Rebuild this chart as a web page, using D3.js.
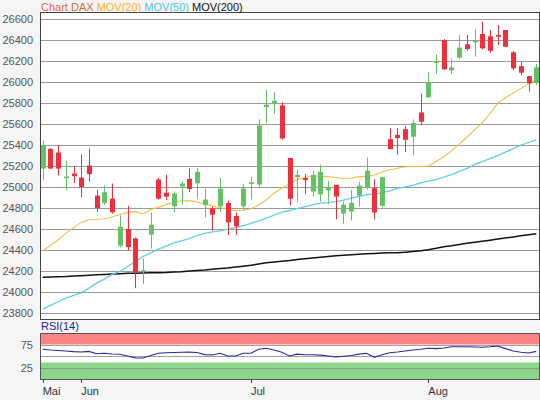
<!DOCTYPE html>
<html><head><meta charset="utf-8">
<script src="https://cdn.jsdelivr.net/npm/d3@7"></script>
<style>
html,body{margin:0;padding:0;background:#f5f5f5;}
svg{display:block;font-family:"Liberation Sans",Arial,sans-serif;}
</style></head>
<body>
<svg id="c" width="540" height="400"></svg>
<script>
const opens  = [25177,25365,25330,25085,25130,25091,25206,24920,24850,24891,24443,24602,24513,24198,24548,25073,24948,24818,25006,25079,25037,24830,24799,24818,24850,24726,24818,25031,25025,25762,25800,25778,25278,25095,25086,24959,24933,24971,25022,24749,24768,24921,24997,24990,24822,25457,25498,25552,25480,25711,25854,26184,26400,26111,26232,26359,26378,26457,26435,26448,26495,26283,26152,26057,25994];
const highs  = [25445,25370,25403,25250,25200,25311,25368,24977,25016,25035,24732,24824,24523,24322,24758,25089,25120,24961,25050,25177,25184,24987,24812,25089,24872,24758,25028,25098,25645,25927,25905,25810,25279,25165,25124,25155,25213,25060,25022,24863,24975,25054,25283,25076,25100,25562,25562,25578,25645,25892,26092,26263,26409,26225,26448,26448,26505,26575,26495,26543,26495,26295,26194,26057,26171];
const lows   = [25066,25172,25111,24970,25040,24904,25054,24764,24831,24748,24427,24398,24039,24077,24417,24882,24875,24761,24837,24952,24891,24711,24586,24761,24545,24548,24777,24882,24990,25610,25698,25451,24828,24863,24933,24911,24863,24838,24695,24651,24682,24816,24975,24695,24810,25360,25308,25333,25305,25590,25854,26079,26114,26076,26222,26298,26241,26311,26279,26352,26336,26114,26067,25908,25971];
const closes = [25400,25177,25177,25101,25104,25000,25123,24802,24952,24761,24624,24430,24188,24210,24643,24891,24910,24939,25034,24983,25146,24882,24739,24987,24665,24627,24987,25047,25586,25784,25822,25463,24890,25117,25067,25117,25146,24997,24911,24832,24851,25016,25156,24759,25095,25362,25467,25451,25612,25622,25994,26197,26121,26140,26327,26314,26400,26321,26298,26432,26336,26130,26089,25987,26140];
const mov20  = [24395,24445,24500,24560,24615,24665,24690,24692,24700,24716,24740,24760,24767,24745,24785,24810,24834,24855,24868,24872,24860,24840,24822,24805,24790,24777,24780,24795,24830,24880,24945,24990,25030,25072,25092,25104,25104,25100,25092,25082,25085,25100,25104,25115,25145,25165,25180,25194,25197,25197,25200,25245,25290,25345,25410,25475,25545,25615,25700,25800,25850,25895,25940,25985,26030];
const mov50  = [23839,23875,23910,23945,23970,23995,24040,24087,24125,24170,24198,24245,24290,24340,24375,24410,24440,24470,24488,24510,24540,24560,24575,24585,24600,24615,24635,24655,24680,24706,24735,24762,24778,24797,24815,24832,24848,24853,24862,24876,24895,24912,24928,24937,24946,24965,24988,25003,25018,25040,25058,25072,25095,25120,25150,25178,25215,25244,25272,25300,25334,25366,25400,25425,25451];
const mov200 = [24144,24146,24148,24150,24154,24158,24163,24167,24170,24174,24177,24180,24182,24184,24185,24186,24188,24192,24196,24203,24208,24213,24220,24226,24232,24240,24248,24257,24268,24280,24288,24295,24302,24311,24318,24325,24333,24340,24347,24352,24357,24362,24367,24370,24373,24375,24377,24382,24388,24395,24405,24418,24433,24443,24455,24466,24475,24485,24495,24506,24516,24527,24537,24547,24556];
const rsi    = [64.6,63,62,61,59.5,58.7,60,55,56,54.5,53.7,50,46,45.7,51,55.9,57,57.5,58,58.5,57.5,53,52.2,55.9,50,50,55.9,56,64.6,66.7,63,58,50,54,52.8,52.8,52,50,48,49.5,51,54,55.9,47.2,52.8,57,58.7,61,63,64.6,67,66,67.5,70,70.2,70.2,69.5,69,70,71.7,66,61,58,56.5,60];
const yTicks = [23800,24000,24200,24400,24600,24800,25000,25200,25400,25600,25800,26000,26200,26400,26600];
const monthLabels = ["Mai","Jun","Jul","Aug"];
const monthIndex  = [0,5,27,50];
const rsiTicks = [25,75];
const rsiGrid = [25,50,75];
const rsiHighBand = [75,100];
const rsiLowBand = [0,36];

const svg = d3.select("#c");
const L = 40, R = 539, T = 12, B = 319;
const n = closes.length;
const x = d3.scaleLinear().domain([-0.35, n - 1 + 0.35]).range([L, R]);
const y = d3.scaleLinear().domain([23800, 26600]).range([313.3, 19]);

// plot background
svg.append("rect").attr("x", L).attr("y", T).attr("width", R - L).attr("height", B - T).attr("fill", "#fff");

// gridlines
svg.append("g").selectAll("line").data(yTicks).join("line")
  .attr("x1", L).attr("x2", R).attr("y1", d => Math.round(y(d)) + 0.5).attr("y2", d => Math.round(y(d)) + 0.5)
  .attr("stroke", "#9a9a9a").attr("stroke-width", 1);

// y axis labels
const yAxis = d3.axisLeft(y).tickValues(yTicks).tickSize(0).tickPadding(7).tickFormat(d3.format("d"));
const ga = svg.append("g").attr("transform", `translate(${L},0)`).call(yAxis);
ga.select(".domain").remove();
ga.selectAll("text").attr("fill", "#555").attr("font-size", 11).attr("font-family", "Liberation Sans, Arial, sans-serif");

// moving averages
const lineGen = arr => d3.line().x((d, i) => x(i)).y(d => y(d))(arr);
svg.append("path").attr("d", lineGen(mov200)).attr("fill", "none").attr("stroke", "#111").attr("stroke-width", 1.5);
svg.append("path").attr("d", lineGen(mov50)).attr("fill", "none").attr("stroke", "#5fd0ea").attr("stroke-width", 1.3);
svg.append("path").attr("d", lineGen(mov20)).attr("fill", "none").attr("stroke", "#f7bc4a").attr("stroke-width", 1.1);

// candles
const idx = d3.range(n);
const up = i => closes[i] >= opens[i];
const green = "#63c263", red = "#ef2f3b";
const cg = svg.append("g");
cg.selectAll("line").data(idx).join("line")
  .attr("x1", i => Math.round(x(i)) + 0.5).attr("x2", i => Math.round(x(i)) + 0.5)
  .attr("y1", i => y(highs[i])).attr("y2", i => y(lows[i]))
  .attr("stroke", i => up(i) ? green : red).attr("stroke-width", 1);
cg.selectAll("rect").data(idx).join("rect")
  .attr("x", i => Math.round(x(i)) - 2)
  .attr("width", 5)
  .attr("y", i => y(Math.max(opens[i], closes[i])))
  .attr("height", i => Math.max(1.5, Math.abs(y(opens[i]) - y(closes[i]))))
  .attr("fill", i => up(i) ? green : red);

// frame
svg.append("rect").attr("x", L + 0.5).attr("y", T + 0.5).attr("width", R - L).attr("height", B - T)
  .attr("fill", "none").attr("stroke", "#444").attr("stroke-width", 1);

// legend
const leg = svg.append("text").attr("x", 41).attr("y", 11).attr("font-size", 11);
leg.append("tspan").text("Chart DAX").attr("fill", "#e2663c");
leg.append("tspan").text(" MOV(20)").attr("fill", "#f5b32a");
leg.append("tspan").text(" MOV(50)").attr("fill", "#4fc6e6");
leg.append("tspan").text(" MOV(200)").attr("fill", "#111");

// RSI panel
const RT = 333, RB = 379;
const ry = d3.scaleLinear().domain([0, 100]).range([RB, RT]);
svg.append("rect").attr("x", L).attr("y", RT).attr("width", R - L).attr("height", RB - RT).attr("fill", "#fff");
svg.append("rect").attr("x", L).attr("width", R - L).attr("y", ry(rsiHighBand[1])).attr("height", ry(rsiHighBand[0]) - ry(rsiHighBand[1])).attr("fill", "#ff8585");
svg.append("rect").attr("x", L).attr("width", R - L).attr("y", ry(rsiLowBand[1])).attr("height", ry(rsiLowBand[0]) - ry(rsiLowBand[1])).attr("fill", "#8cd68c");
svg.append("g").selectAll("line").data(rsiGrid).join("line")
  .attr("x1", L).attr("x2", R).attr("y1", d => Math.round(ry(d)) + 0.5).attr("y2", d => Math.round(ry(d)) + 0.5)
  .attr("stroke", "#8a8a8a").attr("stroke-width", 1).attr("opacity", 0.8);
svg.append("path").attr("d", d3.line().x((d, i) => x(i)).y(d => ry(d))(rsi))
  .attr("fill", "none").attr("stroke", "#2a2aa8").attr("stroke-width", 1.1);
svg.append("rect").attr("x", L + 0.5).attr("y", RT + 0.5).attr("width", R - L).attr("height", RB - RT)
  .attr("fill", "none").attr("stroke", "#555").attr("stroke-width", 1);
const rAxis = d3.axisLeft(ry).tickValues(rsiTicks).tickSize(0).tickPadding(7);
const gr = svg.append("g").attr("transform", `translate(${L},0)`).call(rAxis);
gr.select(".domain").remove();
gr.selectAll("text").attr("fill", "#555").attr("font-size", 11).attr("font-family", "Liberation Sans, Arial, sans-serif");
svg.append("text").attr("x", 41).attr("y", 330).attr("font-size", 11).attr("fill", "#1c1ca6").text("RSI(14)");

// x axis
const gx = svg.append("g");
gx.selectAll("line").data(monthIndex).join("line")
  .attr("x1", d => Math.round(x(d)) + 0.5).attr("x2", d => Math.round(x(d)) + 0.5)
  .attr("y1", RB).attr("y2", RB + 4).attr("stroke", "#444");
gx.selectAll("text").data(monthIndex).join("text")
  .attr("x", d => x(d)).attr("y", 395).attr("font-size", 11).attr("fill", "#333")
  .text((d, i) => monthLabels[i]);
</script>
</body></html>
